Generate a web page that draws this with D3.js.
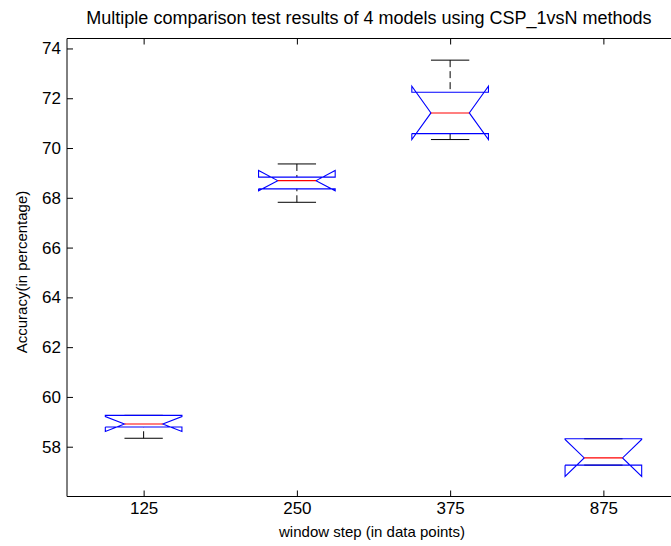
<!DOCTYPE html>
<html>
<head>
<meta charset="utf-8">
<script src="https://cdn.jsdelivr.net/npm/d3@7"></script>
<style>
  html, body { margin: 0; padding: 0; background: #fff; }
  svg { display: block; }
  text { font-family: "Liberation Sans", Arial, sans-serif; fill: #000; }
</style>
</head>
<body>
<svg id="chart" width="671" height="546"></svg>
<script>
// ---- data ----
const categories = ["125", "250", "375", "875"];
const q1        = [58.79, 68.36, 70.58, 57.26];
const medians   = [58.91, 68.69, 71.41, 57.55];
const q3        = [59.26, 68.83, 72.24, 58.32];
const notchLo   = [58.61, 68.28, 70.34, 56.81];
const notchHi   = [59.21, 69.10, 72.48, 58.29];
const whiskerLo = [58.34, 67.82, 70.34, 57.26];
const whiskerHi = [59.26, 69.36, 73.53, 58.32];
const yTicks = [58, 60, 62, 64, 66, 68, 70, 72, 74];

const titleText = "Multiple comparison test results of 4 models using CSP_1vsN methods";
const xLabelText = "window step (in data points)";
const yLabelText = "Accuracy(in percentage)";

// ---- layout ----
const svg = d3.select("#chart");
const pLeft = 67, pRight = 680, pTop = 38.5, pBottom = 496.5;
const x = d3.scaleLinear().domain([0.5, 4.5]).range([pLeft, pRight]);
const y = d3.scaleLinear().domain([56, 74.4]).range([pBottom, pTop]);
const tickLen = 6;
const boxHalf = 0.25, notchInset = 0.125, capHalf = 0.125;
const tickFont = 17, titleFont = 18, labelFont = 15;

const boxes = categories.map((c, i) => ({
  c: i + 1, q1: q1[i], med: medians[i], q3: q3[i],
  nLo: notchLo[i], nHi: notchHi[i], wLo: whiskerLo[i], wHi: whiskerHi[i]
}));

svg.append("defs").append("clipPath").attr("id", "plotclip")
  .append("rect").attr("x", pLeft).attr("y", pTop).attr("width", pRight - pLeft).attr("height", pBottom - pTop);

const plot = svg.append("g").attr("clip-path", "url(#plotclip)");

// whiskers (dashed) and caps
boxes.forEach(b => {
  [[b.q3, b.wHi], [b.q1, b.wLo]].forEach(([from, to]) => {
    if (Math.abs(from - to) > 1e-9) {
      plot.append("line")
        .attr("x1", x(b.c)).attr("x2", x(b.c))
        .attr("y1", y(to)).attr("y2", y(from))
        .attr("stroke", "#000").attr("stroke-width", 1)
        .attr("stroke-dasharray", "7,4");
    }
    plot.append("line")
      .attr("x1", x(b.c - capHalf)).attr("x2", x(b.c + capHalf))
      .attr("y1", y(to)).attr("y2", y(to))
      .attr("stroke", "#000").attr("stroke-width", 1);
  });
});

// notched boxes
const line = d3.line().x(d => x(d[0])).y(d => y(d[1]));
boxes.forEach(b => {
  const L = b.c - boxHalf, R = b.c + boxHalf;
  const pts = [
    [L, b.q1], [L, b.nLo], [L + notchInset, b.med], [L, b.nHi], [L, b.q3],
    [R, b.q3], [R, b.nHi], [R - notchInset, b.med], [R, b.nLo], [R, b.q1], [L, b.q1]
  ];
  plot.append("path")
    .attr("d", line(pts))
    .attr("fill", "none").attr("stroke", "#0000ff").attr("stroke-width", 1.1)
    .attr("stroke-linejoin", "miter");
  plot.append("line")
    .attr("x1", x(L + notchInset)).attr("x2", x(R - notchInset))
    .attr("y1", y(b.med)).attr("y2", y(b.med))
    .attr("stroke", "#ff0000").attr("stroke-width", 1.1);
});

// axes frame
const axisG = svg.append("g");
axisG.append("line").attr("x1", pLeft).attr("x2", pLeft).attr("y1", pTop).attr("y2", pBottom).attr("stroke", "#000");
axisG.append("line").attr("x1", pLeft).attr("x2", pRight).attr("y1", pBottom).attr("y2", pBottom).attr("stroke", "#000");
axisG.append("line").attr("x1", pLeft).attr("x2", pRight).attr("y1", pTop).attr("y2", pTop).attr("stroke", "#000");
axisG.append("line").attr("x1", pRight).attr("x2", pRight).attr("y1", pTop).attr("y2", pBottom).attr("stroke", "#000");

// x axis (ticks inward)
const xAxis = d3.axisBottom(x)
  .tickValues(categories.map((c, i) => i + 1))
  .tickFormat((d, i) => categories[i])
  .tickSizeInner(-tickLen).tickSizeOuter(0).tickPadding(5);
const gx = svg.append("g").attr("transform", `translate(0,${pBottom})`).call(xAxis);
gx.select(".domain").remove();
gx.selectAll("line").attr("stroke", "#000");
gx.selectAll("text").attr("font-size", tickFont).attr("font-family", "Liberation Sans, Arial, sans-serif").attr("fill", "#000");

// top ticks
const xTop = d3.axisTop(x)
  .tickValues(categories.map((c, i) => i + 1))
  .tickFormat("").tickSizeInner(-tickLen).tickSizeOuter(0);
const gxt = svg.append("g").attr("transform", `translate(0,${pTop})`).call(xTop);
gxt.select(".domain").remove();
gxt.selectAll("line").attr("stroke", "#000");

// y axis (ticks inward)
const yAxis = d3.axisLeft(y).tickValues(yTicks).tickFormat(d3.format("d"))
  .tickSizeInner(-tickLen).tickSizeOuter(0).tickPadding(6);
const gy = svg.append("g").attr("transform", `translate(${pLeft},0)`).call(yAxis);
gy.select(".domain").remove();
gy.selectAll("line").attr("stroke", "#000");
gy.selectAll("text").attr("font-size", tickFont).attr("font-family", "Liberation Sans, Arial, sans-serif").attr("fill", "#000");

// labels
svg.append("text").attr("x", 369).attr("y", 24).attr("text-anchor", "middle")
  .attr("font-size", titleFont).text(titleText);
svg.append("text").attr("x", 372).attr("y", 537).attr("text-anchor", "middle")
  .attr("font-size", labelFont).text(xLabelText);
svg.append("text").attr("transform", `translate(27,272) rotate(-90)`).attr("text-anchor", "middle")
  .attr("font-size", labelFont).text(yLabelText);
</script>
</body>
</html>
